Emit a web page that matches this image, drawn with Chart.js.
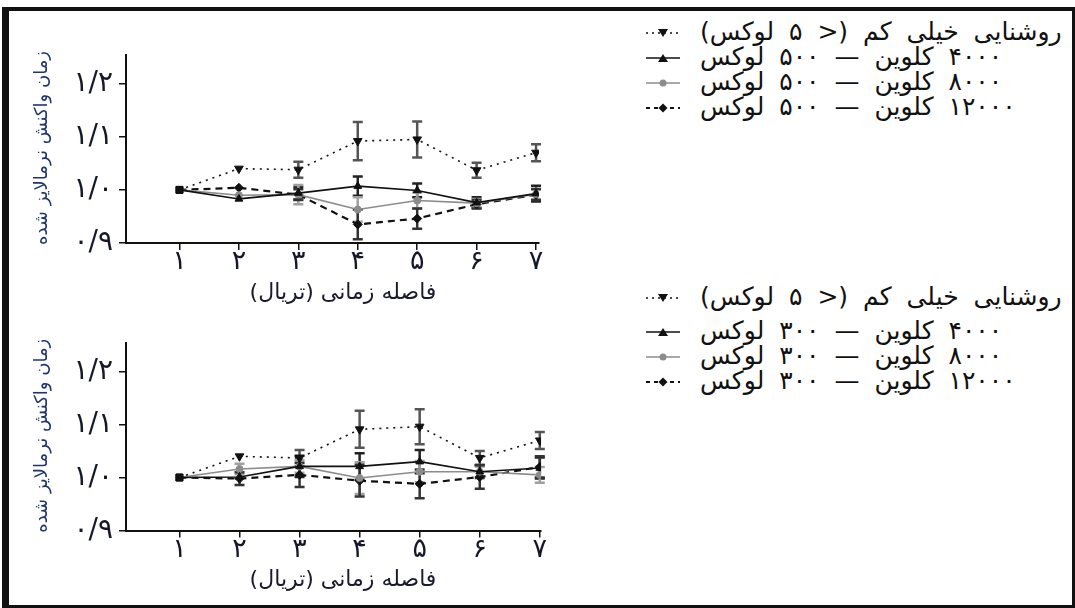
<!DOCTYPE html>
<html lang="fa">
<head>
<meta charset="utf-8">
<script src="https://cdn.jsdelivr.net/npm/chart.js@4.4.1/dist/chart.umd.min.js"></script>
<style>
  html, body { margin: 0; padding: 0; background: #fff; }
  body { width: 1075px; height: 608px; position: relative; overflow: hidden; font-family: "DejaVu Sans", sans-serif; }
  .frame { position: absolute; left: 2px; top: 7px; width: 1073px; height: 601px; box-sizing: border-box;
           border-style: solid; border-color: #111; border-width: 4px 3px 3px 7px; }
  canvas { position: absolute; left: 0; }
  .legend-row { position: absolute; left: 640px; height: 24px; width: 430px; }
  .legend-row svg { position: absolute; left: 6px; top: 5px; }
  .legend-row span { position: absolute; left: 60px; top: -3px; direction: rtl; white-space: nowrap;
                     font-size: 25px; line-height: 28px; word-spacing: 7px; color: #111; }
</style>
</head>
<body>
<div class="frame"></div>
<canvas id="chart-500" width="560" height="310" style="top:0"></canvas>
<canvas id="chart-300" width="560" height="305" style="top:300px"></canvas>
<div id="legends"></div>

<script>
// trials on the x axis
const trials = [1, 2, 3, 4, 5, 6, 7];
const xTickLabels = ['۱', '۲', '۳', '۴', '۵', '۶', '۷'];
const yTickValues = [0.9, 1.0, 1.1, 1.2];
const yTickLabels = ['۰/۹', '۱/۰', '۱/۱', '۱/۲'];

const xTitle = 'فاصله زمانی (تریال)';
const yTitle = 'زمان واکنش نرمالایز شده';

const labels500 = ['روشنایی خیلی کم (< ۵ لوکس)', '۴۰۰۰ کلوین — ۵۰۰ لوکس', '۸۰۰۰ کلوین — ۵۰۰ لوکس', '۱۲۰۰۰ کلوین — ۵۰۰ لوکس'];
const labels300 = ['روشنایی خیلی کم (< ۵ لوکس)', '۴۰۰۰ کلوین — ۳۰۰ لوکس', '۸۰۰۰ کلوین — ۳۰۰ لوکس', '۱۲۰۰۰ کلوین — ۳۰۰ لوکس'];

// top panel: 500 lux
const dim500 = [1.0, 1.04, 1.038, 1.092, 1.095, 1.037, 1.07];
const dim500Err = [0, 0, 0.015, 0.036, 0.034, 0.014, 0.016];
const k4000_500 = [1.0, 0.983, 0.994, 1.007, 0.999, 0.976, 0.993];
const k4000_500Err = [0, 0, 0.012, 0.018, 0.013, 0.01, 0.015];
const k8000_500 = [1.0, 0.99, 0.991, 0.963, 0.98, 0.975, 0.992];
const k8000_500Err = [0, 0, 0.018, 0.023, 0.015, 0.008, 0.01];
const k12000_500 = [1.0, 1.004, 0.991, 0.935, 0.946, 0.973, 0.991];
const k12000_500Err = [0, 0, 0.01, 0.028, 0.019, 0.008, 0.01];

// bottom panel: 300 lux
const dim300 = [1.0, 1.04, 1.037, 1.091, 1.096, 1.037, 1.07];
const dim300Err = [0, 0, 0.015, 0.035, 0.033, 0.013, 0.016];
const k4000_300 = [1.0, 1.001, 1.021, 1.021, 1.03, 1.011, 1.018];
const k4000_300Err = [0, 0, 0.02, 0.025, 0.022, 0.012, 0.02];
const k8000_300 = [1.0, 1.016, 1.021, 0.999, 1.011, 1.011, 1.005];
const k8000_300Err = [0, 0.01, 0.012, 0.03, 0.02, 0.01, 0.015];
const k12000_300 = [1.0, 0.998, 1.005, 0.994, 0.988, 1.001, 1.02];
const k12000_300Err = [0, 0.012, 0.023, 0.03, 0.027, 0.022, 0.02];

const styles = [
    {color: '#111', width: 1.6, dash: [2, 5], point: 'triangle', rotation: 180, radius: 5, err: '#555'},
    {color: '#111', width: 1.6, dash: [], point: 'triangle', rotation: 0, radius: 4.5, err: '#222'},
    {color: '#8c8c8c', width: 1.6, dash: [], point: 'circle', rotation: 0, radius: 3.5, err: '#a0a0a0'},
    {color: '#111', width: 2.2, dash: [7, 5], point: 'rectRot', rotation: 0, radius: 4.5, err: '#333'}
];

function makeSets(series, errs, labels) {
    return series.map((vals, i) => {
        const s = styles[i];
        return {
            label: labels[i],
            data: trials.map((t, j) => ({x: t, y: vals[j]})),
            errors: errs[i],
            errorColor: s.err,
            borderColor: s.color,
            backgroundColor: s.color,
            borderWidth: s.width,
            borderDash: s.dash,
            pointStyle: ctx => ctx.dataIndex === 0 ? 'rect' : s.point,
            pointRotation: ctx => ctx.dataIndex === 0 ? 0 : s.rotation,
            pointRadius: s.radius,
            pointBorderWidth: 1,
            tension: 0
        };
    });
}

const errorBars = {
    id: 'errorBars',
    beforeDatasetsDraw(chart) {
        const {ctx, scales: {x, y}} = chart;
        chart.data.datasets.forEach(ds => {
            ctx.save();
            ctx.strokeStyle = ds.errorColor;
            ctx.lineWidth = 2.5;
            ds.data.forEach((p, j) => {
                const e = ds.errors[j];
                if (!e) return;
                const px = x.getPixelForValue(p.x);
                const top = y.getPixelForValue(p.y + e);
                const bot = y.getPixelForValue(p.y - e);
                ctx.beginPath();
                ctx.moveTo(px, top); ctx.lineTo(px, bot);
                ctx.moveTo(px - 5, top); ctx.lineTo(px + 5, top);
                ctx.moveTo(px - 5, bot); ctx.lineTo(px + 5, bot);
                ctx.stroke();
            });
            ctx.restore();
        });
    }
};

const axisTitles = {
    id: 'axisTitles',
    afterDraw(chart, args, opts) {
        const {ctx, chartArea} = chart;
        ctx.save();
        ctx.direction = 'rtl';
        ctx.textAlign = 'center';
        ctx.textBaseline = 'middle';
        ctx.fillStyle = '#1f3570';
        ctx.font = '18px "DejaVu Sans"';
        ctx.translate(opts.yX, (chartArea.top + chartArea.bottom) / 2 - 1);
        ctx.rotate(-Math.PI / 2);
        ctx.fillText(yTitle, 0, 0);
        ctx.restore();

        ctx.save();
        ctx.direction = 'rtl';
        ctx.textAlign = 'center';
        ctx.textBaseline = 'middle';
        ctx.fillStyle = '#1a1a2e';
        ctx.font = '22px "DejaVu Sans"';
        ctx.fillText(xTitle, opts.xX, chartArea.bottom + opts.xGap);
        ctx.restore();
    }
};

function makeChart(id, sets, g) {
    return new Chart(document.getElementById(id), {
        type: 'line',
        data: {datasets: sets},
        options: {
            responsive: false,
            animation: false,
            layout: {padding: {top: g.top, right: g.right, left: 0, bottom: 0}},
            plugins: {
                legend: {display: false},
                tooltip: {enabled: false},
                axisTitles: {yX: 42, xX: 343, xGap: 50}
            },
            scales: {
                x: {
                    type: 'linear',
                    min: g.xMin,
                    max: g.xMax,
                    afterBuildTicks: s => { s.ticks = trials.map(v => ({value: v})); },
                    afterFit: s => { s.height = g.xHeight; },
                    ticks: {
                        autoSkip: false,
                        maxRotation: 0,
                        padding: -4,
                        color: '#15182a',
                        font: {family: 'DejaVu Sans', size: 27},
                        callback: (v, i) => xTickLabels[i]
                    },
                    grid: {drawOnChartArea: false, drawTicks: true, tickLength: 7, color: '#111', lineWidth: 1.5},
                    border: {color: '#111', width: 2}
                },
                y: {
                    min: 0.9,
                    max: 1.254,
                    afterFit: s => { s.width = 126; },
                    ticks: {
                        stepSize: 0.1,
                        includeBounds: false,
                        padding: 6,
                        color: '#15182a',
                        font: {family: 'DejaVu Sans', size: 28},
                        callback: v => {
                            const i = yTickValues.findIndex(t => Math.abs(t - v) < 1e-6);
                            return i >= 0 ? yTickLabels[i] : '';
                        }
                    },
                    grid: {drawOnChartArea: false, drawTicks: true, tickLength: 7, color: '#111', lineWidth: 1.5},
                    border: {color: '#111', width: 2}
                }
            }
        },
        plugins: [errorBars, axisTitles]
    });
}

makeChart('chart-500',
    makeSets([dim500, k4000_500, k8000_500, k12000_500], [dim500Err, k4000_500Err, k8000_500Err, k12000_500Err], labels500),
    {top: 55, right: 21, xHeight: 67, xMin: 0.1, xMax: 7.05});

makeChart('chart-300',
    makeSets([dim300, k4000_300, k8000_300, k12000_300], [dim300Err, k4000_300Err, k8000_300Err, k12000_300Err], labels300),
    {top: 43, right: 19, xHeight: 74.5, xMin: 0.11, xMax: 7.02});

// html legends to the right of each panel
const symbols = [
    '<line x1="0" y1="7" x2="34" y2="7" stroke="#111" stroke-width="1.5" stroke-dasharray="2,4"/><polygon points="12,3 22,3 17,11" fill="#111"/>',
    '<line x1="0" y1="7" x2="34" y2="7" stroke="#111" stroke-width="1.6"/><polygon points="12,11 22,11 17,3" fill="#111"/>',
    '<line x1="0" y1="7" x2="34" y2="7" stroke="#8c8c8c" stroke-width="1.6"/><circle cx="17" cy="7" r="3.5" fill="#8c8c8c"/>',
    '<line x1="0" y1="7" x2="34" y2="7" stroke="#111" stroke-width="2" stroke-dasharray="4,4"/><polygon points="17,2.5 21.5,7 17,11.5 12.5,7" fill="#111"/>'
];

function addLegend(labels, rowsY) {
    const box = document.getElementById('legends');
    labels.forEach((text, i) => {
        const row = document.createElement('div');
        row.className = 'legend-row';
        row.style.top = (rowsY[i] - 12) + 'px';
        row.innerHTML = '<svg width="36" height="14">' + symbols[i] + '</svg><span>' + text + '</span>';
        box.appendChild(row);
    });
}

addLegend(labels500, [33, 58, 83, 108]);
addLegend(labels300, [298, 332, 357, 382]);
</script>
</body>
</html>
